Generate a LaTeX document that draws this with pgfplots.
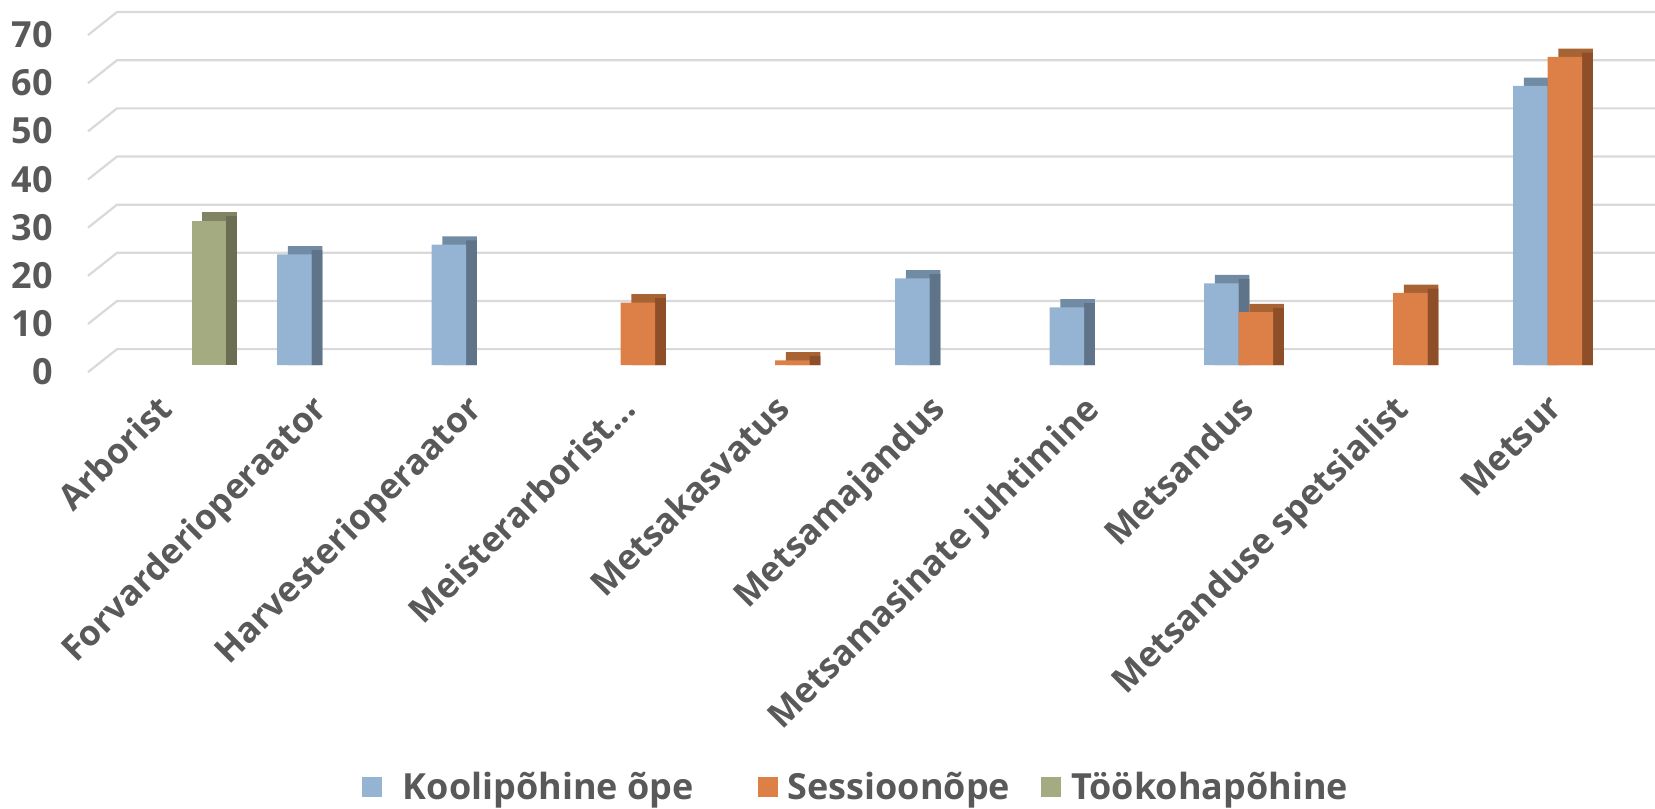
\documentclass[border=0pt]{standalone}
\usepackage{fontspec}
\setmainfont{Open Sans}
\usepackage{pgfplots}
\usepackage{pgfplotstable}
\pgfplotsset{compat=1.18}

\definecolor{txt}{HTML}{595959}
\definecolor{grd}{HTML}{D9D9D9}
\definecolor{bluF}{HTML}{95B4D3}
\definecolor{bluT}{HTML}{728BA5}
\definecolor{bluD}{HTML}{5F7489}
\definecolor{oraF}{HTML}{DD8047}
\definecolor{oraT}{HTML}{A86334}
\definecolor{oraD}{HTML}{8E4F28}
\definecolor{grnF}{HTML}{A5AB81}
\definecolor{grnT}{HTML}{808463}
\definecolor{grnD}{HTML}{6B6E50}

\pgfplotsset{sqlegend/.style={legend image code/.code={\fill[##1] (0pt,-5pt) rectangle (10pt,5pt);}}}

% category index, value (only non-empty bars)
\pgfplotstableread{
x v
1 23
2 25
5 18
6 12
7 17
9 58
}\kool
\pgfplotstableread{
x v
3 13
4 1
7 11
8 15
9 64
}\sess
\pgfplotstableread{
x v
0 30
}\took

\newcommand{\lbl}{\bfseries\fontsize{18}{21}\selectfont}
\newcommand{\catlbl}{\bfseries\fontsize{17.5}{21}\selectfont}

\begin{document}
\begin{tikzpicture}
\begin{axis}[
  scale only axis, width=783.5pt, height=190.5pt,
  xmin=-0.56, xmax=9.583, ymin=-3.3, ymax=75.82,
  clip=false,
  axis line style={draw=none}, major tick length=0pt,
  xtick={0,...,9},
  xticklabels={Arborist, Forvarderioperaator, Harvesterioperaator, Meisterarborist…,
    Metsakasvatus, Metsamajandus, Metsamasinate juhtimine, Metsandus,
    Metsanduse spetsialist, Metsur},
  xticklabel style={xshift=-9.5pt, yshift=-5.5pt, rotate=45, anchor=north east,
    font=\catlbl, text=txt, inner sep=0pt},
  ytick={-1.4,8.6,18.6,28.6,38.6,48.6,58.6,68.6},
  yticklabels={0,10,20,30,40,50,60,70},
  yticklabel style={font=\lbl, text=txt, inner sep=0pt, xshift=-17.5pt},
  legend style={at={(axis cs:1.2136,-87.66)}, anchor=west, draw=none, fill=none,
    inner sep=0pt, outer sep=0pt,
    legend columns=3, font=\lbl, text=txt, nodes={inner sep=0pt},
    /tikz/every odd column/.append style={column sep=5pt},
    /tikz/column 2/.append style={column sep=32pt},
    /tikz/column 4/.append style={column sep=15.5pt}},
]
% floor diagonals and back-wall gridlines
\addplot[grd, line width=1.1pt, forget plot] coordinates {(-0.56,-1.46) (-0.372,3.32) (9.583,3.32)};
\addplot[grd, line width=1.1pt, forget plot] coordinates {(-0.56,8.54) (-0.372,13.32) (9.583,13.32)};
\addplot[grd, line width=1.1pt, forget plot] coordinates {(-0.56,18.54) (-0.372,23.32) (9.583,23.32)};
\addplot[grd, line width=1.1pt, forget plot] coordinates {(-0.56,28.54) (-0.372,33.32) (9.583,33.32)};
\addplot[grd, line width=1.1pt, forget plot] coordinates {(-0.56,38.54) (-0.372,43.32) (9.583,43.32)};
\addplot[grd, line width=1.1pt, forget plot] coordinates {(-0.56,48.54) (-0.372,53.32) (9.583,53.32)};
\addplot[grd, line width=1.1pt, forget plot] coordinates {(-0.56,58.54) (-0.372,63.32) (9.583,63.32)};
\addplot[grd, line width=1.1pt, forget plot] coordinates {(-0.56,68.54) (-0.372,73.32) (9.583,73.32)};

% Koolipõhine õpe (left slot)
\addplot[ybar, bar width=0.2233, bar shift=-0.1543, fill=bluT, draw=none, forget plot]
  table[x=x, y expr=\thisrow{v}+1.72] {\kool};
\addplot[ybar, bar width=0.069, bar shift=-0.0771, fill=bluD, draw=none, forget plot]
  table[x=x, y expr=\thisrow{v}+0.9] {\kool};
\addplot[ybar, bar width=0.2233, bar shift=-0.2233, fill=bluF, draw=none, sqlegend]
  table[x=x, y=v] {\kool};
\addlegendentry{\hspace*{5.5pt}Koolipõhine õpe}

% Sessioonõpe (middle slot)
\addplot[ybar, bar width=0.2233, bar shift=0.069, fill=oraT, draw=none, forget plot]
  table[x=x, y expr=\thisrow{v}+1.72] {\sess};
\addplot[ybar, bar width=0.069, bar shift=0.1462, fill=oraD, draw=none, forget plot]
  table[x=x, y expr=\thisrow{v}+0.9] {\sess};
\addplot[ybar, bar width=0.2233, bar shift=0, fill=oraF, draw=none, sqlegend]
  table[x=x, y=v] {\sess};
\addlegendentry{Sessioonõpe}

% Töökohapõhine (right slot)
\addplot[ybar, bar width=0.2233, bar shift=0.2923, fill=grnT, draw=none, forget plot]
  table[x=x, y expr=\thisrow{v}+1.72] {\took};
\addplot[ybar, bar width=0.069, bar shift=0.3695, fill=grnD, draw=none, forget plot]
  table[x=x, y expr=\thisrow{v}+0.9] {\took};
\addplot[ybar, bar width=0.2233, bar shift=0.2233, fill=grnF, draw=none, sqlegend]
  table[x=x, y=v] {\took};
\addlegendentry{Töökohapõhine}

\coordinate (bl) at (axis cs:-1.1294,-92.02);
\coordinate (tr) at (axis cs:9.583,75.82);
\end{axis}
\pgfresetboundingbox
\path (bl) rectangle (tr);
\end{tikzpicture}
\end{document}
